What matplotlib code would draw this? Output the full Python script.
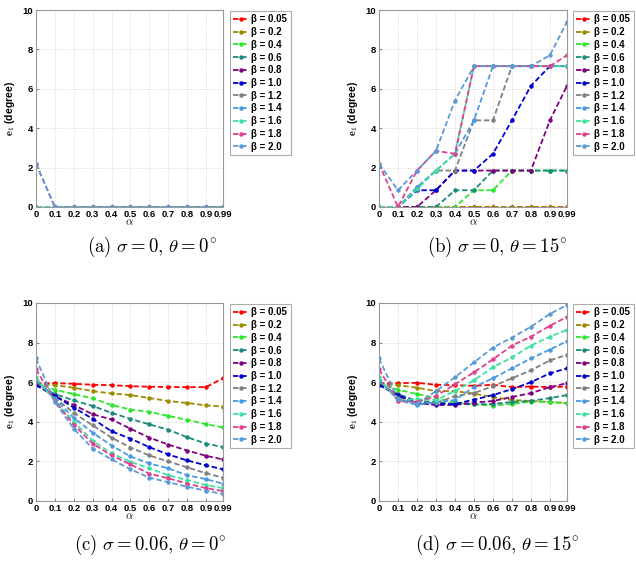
import matplotlib
matplotlib.use("Agg")
import matplotlib.pyplot as plt
import numpy as np

plt.rcParams['mathtext.fontset'] = 'cm'
plt.rcParams['font.family'] = ['Liberation Sans', 'DejaVu Sans']

alpha = [0, 0.1, 0.2, 0.3, 0.4, 0.5, 0.6, 0.7, 0.8, 0.9, 0.99]
alpha_labels = ['0', '0.1', '0.2', '0.3', '0.4', '0.5', '0.6', '0.7', '0.8', '0.9', '0.99']
betas = ['0.05', '0.2', '0.4', '0.6', '0.8', '1.0', '1.2', '1.4', '1.6', '1.8', '2.0']
colors = ['#FF0000', '#9C8A00', '#2EE62E', '#1A8A7A', '#7F007F', '#0000CC',
          '#808080', '#4A9AE0', '#40E0A0', '#E0408F', '#5B9BD5']

# (a) sigma = 0, theta = 0
e_a = [
    [0] * 11,
    [0] * 11,
    [0] * 11,
    [0] * 11,
    [0] * 11,
    [0] * 11,
    [0] * 11,
    [0] * 11,
    [0] * 11,
    [2.2, 0, 0, 0, 0, 0, 0, 0, 0, 0, 0],
    [2.2, 0, 0, 0, 0, 0, 0, 0, 0, 0, 0],
]

# (b) sigma = 0, theta = 15
e_b = [
    [0, 0, 0, 0, 0, 0, 0, 0, 0, 0, 0],
    [0, 0, 0, 0, 0, 0, 0, 0, 0, 0, 0],
    [0, 0, 0, 0, 0, 0.85, 0.85, 1.85, 1.85, 1.85, 1.85],
    [0, 0, 0, 0, 0.85, 0.85, 1.85, 1.85, 1.85, 1.85, 1.85],
    [0, 0, 0, 0.85, 1.85, 1.85, 1.85, 1.85, 1.85, 4.4, 6.15],
    [0, 0, 0.85, 0.85, 1.85, 1.85, 2.7, 4.4, 6.15, 7.15, 7.15],
    [0, 0, 1.0, 1.85, 1.85, 4.4, 4.4, 7.15, 7.15, 7.15, 7.15],
    [0, 0, 1.0, 1.85, 2.7, 4.4, 7.15, 7.15, 7.15, 7.15, 7.15],
    [0, 0, 0.9, 1.85, 2.7, 7.15, 7.15, 7.15, 7.15, 7.15, 7.15],
    [2.2, 0, 1.85, 2.85, 2.7, 7.15, 7.15, 7.15, 7.15, 7.15, 7.7],
    [2.2, 0.85, 1.85, 2.85, 5.4, 7.15, 7.15, 7.15, 7.15, 7.7, 9.4],
]

# (c) sigma = 0.06, theta = 0
e_c = [
    [5.95, 5.95, 5.92, 5.87, 5.85, 5.8, 5.77, 5.76, 5.75, 5.75, 6.2],
    [5.9, 5.85, 5.72, 5.55, 5.43, 5.35, 5.2, 5.05, 4.95, 4.83, 4.77],
    [5.95, 5.62, 5.4, 5.18, 4.85, 4.62, 4.5, 4.3, 4.1, 3.88, 3.72],
    [5.9, 5.4, 5.08, 4.8, 4.45, 4.15, 3.87, 3.6, 3.22, 2.9, 2.72],
    [5.9, 5.3, 4.85, 4.38, 4.12, 3.65, 3.2, 2.85, 2.55, 2.28, 2.1],
    [5.85, 5.3, 4.72, 4.15, 3.52, 3.15, 2.72, 2.35, 2.05, 1.8, 1.6],
    [6.05, 5.2, 4.45, 3.82, 3.2, 2.7, 2.3, 2.0, 1.7, 1.4, 1.18],
    [6.1, 5.15, 4.2, 3.45, 2.8, 2.25, 1.9, 1.65, 1.3, 1.1, 0.88],
    [6.25, 5.05, 4.0, 3.05, 2.4, 1.98, 1.65, 1.3, 1.05, 0.8, 0.65],
    [6.65, 5.05, 3.85, 2.9, 2.3, 1.85, 1.38, 1.15, 0.88, 0.65, 0.5],
    [7.2, 5.0, 3.65, 2.65, 2.1, 1.6, 1.18, 0.95, 0.72, 0.52, 0.35],
]

# (d) sigma = 0.06, theta = 15
e_d = [
    [5.95, 5.95, 5.97, 5.87, 5.85, 5.82, 5.87, 5.75, 5.78, 5.75, 5.78],
    [5.9, 5.85, 5.72, 5.55, 5.55, 5.42, 5.25, 5.1, 5.05, 5.0, 4.95],
    [5.95, 5.62, 5.4, 5.2, 4.98, 4.88, 4.82, 4.9, 5.02, 5.0, 4.93],
    [5.9, 5.4, 5.05, 5.0, 4.9, 4.88, 4.9, 5.0, 5.05, 5.2, 5.35],
    [5.9, 5.3, 4.95, 4.85, 4.85, 4.97, 5.05, 5.25, 5.45, 5.75, 5.95],
    [5.85, 5.35, 4.95, 4.9, 4.9, 5.12, 5.35, 5.65, 6.0, 6.45, 6.7],
    [6.05, 5.2, 4.9, 4.95, 5.3, 5.45, 5.8, 6.2, 6.6, 7.1, 7.38],
    [6.1, 5.1, 4.85, 5.0, 5.1, 5.75, 6.2, 6.7, 7.2, 7.65, 8.07],
    [6.25, 5.05, 5.15, 5.1, 5.55, 6.1, 6.75, 7.25, 7.85, 8.3, 8.65],
    [6.65, 5.05, 5.0, 5.3, 5.9, 6.5, 7.15, 7.85, 8.3, 8.85, 9.3],
    [7.2, 5.15, 4.9, 5.55, 6.25, 7.0, 7.75, 8.25, 8.8, 9.45, 9.9],
]

captions = [r'$\mathrm{(a)}\ \sigma = 0,\, \theta = 0^{\circ}$',
            r'$\mathrm{(b)}\ \sigma = 0,\, \theta = 15^{\circ}$',
            r'$\mathrm{(c)}\ \sigma = 0.06,\, \theta = 0^{\circ}$',
            r'$\mathrm{(d)}\ \sigma = 0.06,\, \theta = 15^{\circ}$']

W, H = 636, 562
fig = plt.figure(figsize=(W / 100, H / 100), dpi=100)

# pixel boxes: left, top, right, bottom
boxes = [(36, 10, 223, 207), (379, 10, 567, 207),
         (36, 303, 223, 501), (379, 303, 567, 501)]
legpos = [(230, 11), (573, 11), (230, 304), (573, 304)]
cappos = [(152, 247), (497, 247), (150, 545), (497, 545)]
datasets = [e_a, e_b, e_c, e_d]

for k in range(4):
    l, t, r, b = boxes[k]
    ax = fig.add_axes([l / W, 1 - b / H, (r - l) / W, (b - t) / H])
    data = datasets[k]
    for i in range(len(betas)):
        ax.plot(alpha, data[i], linestyle='--', color=colors[i], marker='o',
                markersize=2.2, linewidth=1.3, dashes=(3, 1.5),
                label='\u03b2 = ' + betas[i])
    ax.set_xlim(0, 0.99)
    ax.set_ylim(0, 10)
    ax.set_xticks(alpha)
    ax.set_xticklabels(alpha_labels)
    ax.set_yticks([0, 2, 4, 6, 8, 10])
    ax.tick_params(direction='in', length=2, labelsize=6.8, pad=2, color='#888888')
    for lab in ax.get_xticklabels() + ax.get_yticklabels():
        lab.set_fontweight('bold')
    ax.grid(True, linestyle=':', color='#cccccc', linewidth=0.6)
    for s in ax.spines.values():
        s.set_color('#999999')
        s.set_linewidth(0.8)
    ax.set_xlabel(r'$\alpha$', fontsize=8, labelpad=-1)
    ax.set_ylabel(r'$\mathbf{e_1}$ (degree)', fontsize=7.5, fontweight='bold', labelpad=4)
    lx, ly = legpos[k]
    leg = ax.legend(loc='upper left', bbox_to_anchor=(lx / W, 1 - ly / H),
                    bbox_transform=fig.transFigure, fontsize=7, frameon=True,
                    fancybox=False, edgecolor='#999999', handlelength=1.6,
                    handletextpad=0.25, labelspacing=0.28, borderpad=0.35,
                    borderaxespad=0)
    leg.get_frame().set_linewidth(0.8)
    for txt in leg.get_texts():
        txt.set_fontweight('bold')
    cx, cy = cappos[k]
    fig.text(cx / W, 1 - cy / H, captions[k], fontsize=13.5, ha='center', va='center')

fig.savefig('out.png', dpi=100)
